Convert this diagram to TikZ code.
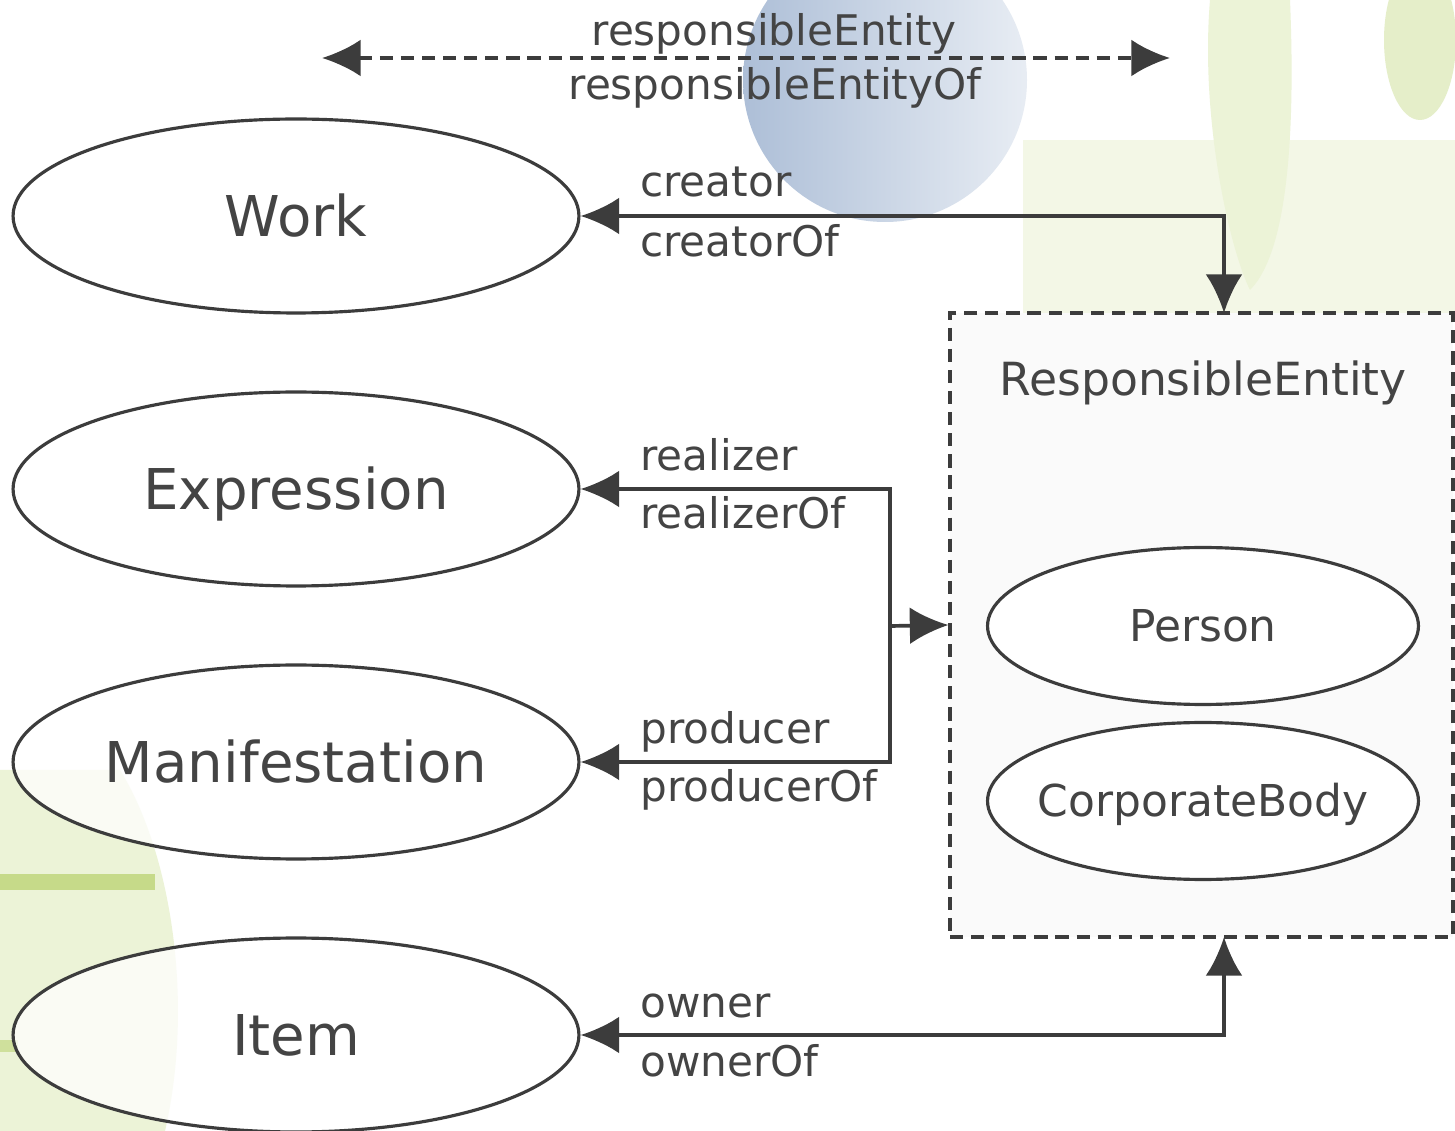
\documentclass[tikz,border=0pt]{standalone}
\usepackage{fontspec}
\setmainfont{DejaVu Sans}
\usetikzlibrary{arrows.meta}
\usetikzlibrary{shapes.geometric}

\definecolor{edgegray}{HTML}{3C3C3C}
\definecolor{labelgray}{HTML}{444444}
\definecolor{leafgreen}{HTML}{A8C64A}
\definecolor{skyblue}{HTML}{8AA3C6}

\begin{document}
\begin{tikzpicture}[x=0.02cm,y=-0.02cm,
                entity/.style={ellipse,draw=edgegray,line width=1.8pt,fill=white,fill opacity=0.75,text opacity=1,
                    minimum width=11.32cm,minimum height=3.88cm,inner sep=0pt,text=labelgray,
                    text height=23pt,text depth=0pt,font=\fontsize{32}{38}\selectfont},
                agent/.style={ellipse,draw=edgegray,line width=1.8pt,fill=white,
                    minimum width=8.62cm,minimum height=3.14cm,inner sep=0pt,text=labelgray,
                    text height=18pt,text depth=0pt,font=\fontsize{25}{30}\selectfont},
                rel/.style={text=labelgray,font=\fontsize{24}{29}\selectfont,inner sep=0pt},
                link/.style={draw=edgegray,line width=2.1pt},
                onetip/.style={-{Latex[length=22pt,width=21pt]}},
                twotips/.style={{Latex[length=22pt,width=21pt]}-{Latex[length=22pt,width=21pt]}},
                boxdash/.style={dash pattern=on 7.5pt off 4.5pt}]
                \useasboundingbox (0,0) rectangle (1455,1131);
                \fill[white] (0,0) rectangle (1455,1131);

                % faded photo background
                \fill[leafgreen!14] (1023,140) rectangle (1455,313);
                \fill[leafgreen!22] (1210,0) .. controls (1200,120) and (1230,250) .. (1250,290)
                    .. controls (1290,250) and (1295,120) .. (1290,0) -- cycle;
                \fill[leafgreen!30] (1420,40) ellipse (36 and 80);
                \shade[left color=skyblue!70,right color=skyblue!20] (885,80) circle (142);
                \fill[leafgreen!22] (0,770) -- (120,770) .. controls (170,850) and (195,1000) .. (165,1131) -- (0,1131) -- cycle;
                \fill[leafgreen!65] (0,874) rectangle (155,890);
                \fill[leafgreen!55] (0,1040) rectangle (18,1052);

                \node[draw=edgegray,line width=1.8pt,boxdash,fill=black!2,minimum width=10.06cm,minimum height=12.48cm,inner sep=0pt]
                    (respbox) at (1201.5,625) {};
                \node[text=labelgray,font=\fontsize{26}{31}\selectfont,anchor=base] (boxtitle) at (1203,396) {ResponsibleEntity};
                \node[agent] (person) at (1203,626) {Person};
                \node[agent] (corporate) at (1203,801) {\makebox[0pt]{CorporateBody}};

                \node[entity] (work) at (296,216) {Work};
                \node[entity] (expression) at (296,489) {Expression};
                \node[entity] (manifestation) at (296,762) {Manifestation};
                \node[entity] (item) at (296,1035) {Item};

                \coordinate (reLeft) at (322,58);
                \coordinate (reRight) at (1170,58);
                \coordinate (topjoin) at (1224,313);
                \coordinate (bottomjoin) at (1224,937);
                \coordinate (fork) at (890,626);

                \draw[link,twotips,boxdash] (reLeft) -- (reRight);
                \draw[link,twotips] (work.east) -| (topjoin);
                \draw[link,onetip] (fork) |- (expression.east);
                \draw[link,onetip] (fork) |- (manifestation.east);
                \draw[link,onetip] (fork) -- (respbox.west);
                \draw[link,twotips] (item.east) -| (bottomjoin);

                \node[rel,anchor=base] (reLbl) at (774,46) {responsibleEntity};
                \node[rel,anchor=base] (reOfLbl) at (775,100) {responsibleEntityOf};
                \node[rel,anchor=base west] (creatorLbl) at (640,197) {creator};
                \node[rel,anchor=base west] (creatorOfLbl) at (640,257) {creatorOf};
                \node[rel,anchor=base west] (realizerLbl) at (640,471) {realizer};
                \node[rel,anchor=base west] (realizerOfLbl) at (640,529) {realizerOf};
                \node[rel,anchor=base west] (producerLbl) at (640,744) {producer};
                \node[rel,anchor=base west] (producerOfLbl) at (640,802) {producerOf};
                \node[rel,anchor=base west] (ownerLbl) at (640,1017) {owner};
                \node[rel,anchor=base west] (ownerOfLbl) at (640,1076) {ownerOf};
\end{tikzpicture}
\end{document}
